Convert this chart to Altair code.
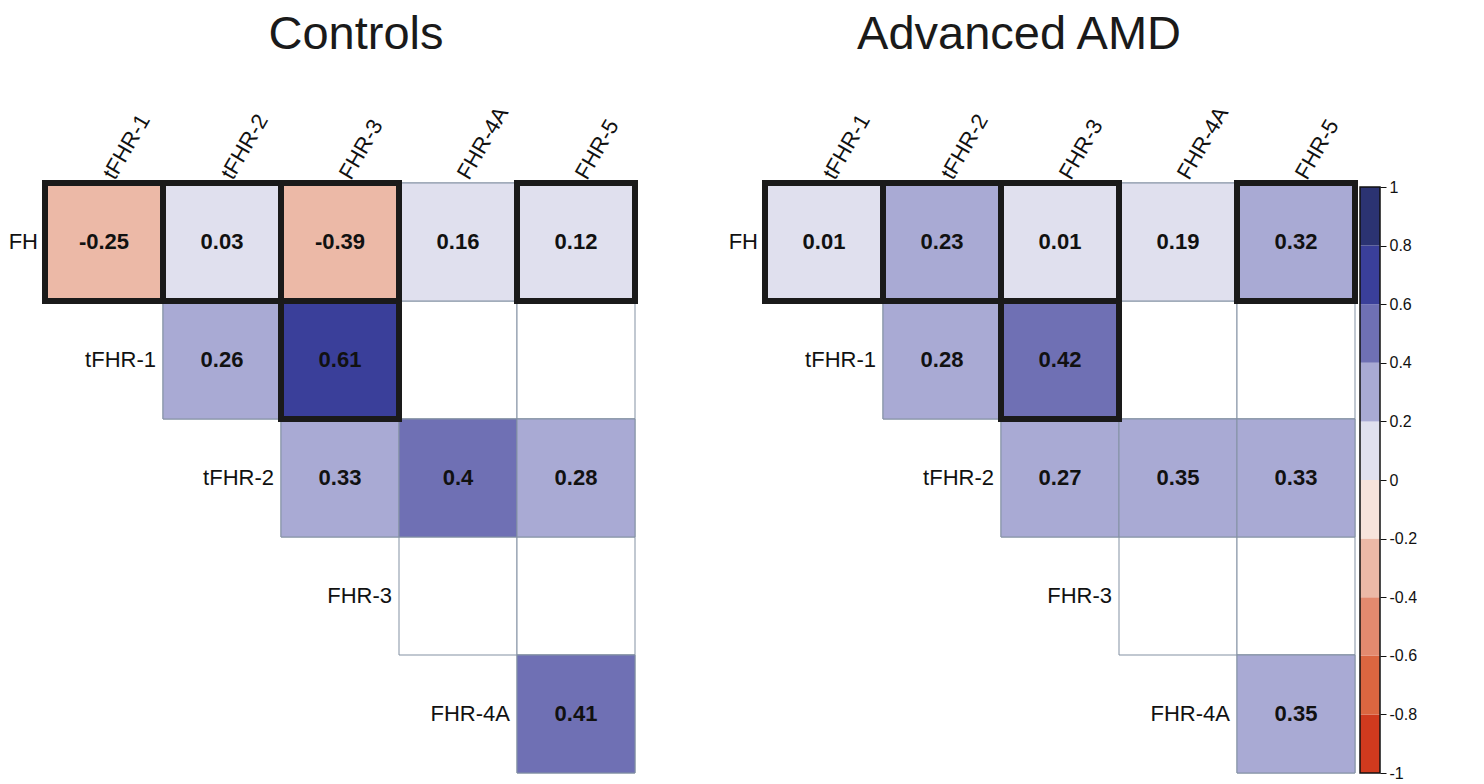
import altair as alt
import pandas as pd

rows = ["FH", "tFHR-1", "tFHR-2", "FHR-3", "FHR-4A"]
cols = ["tFHR-1", "tFHR-2", "FHR-3", "FHR-4A", "FHR-5"]

# upper-triangle values per row (None = blank cell)
controls_vals = [
    [-0.25, 0.03, -0.39, 0.16, 0.12],
    [0.26, 0.61, None, None],
    [0.33, 0.4, 0.28],
    [None, None],
    [0.41],
]
amd_vals = [
    [0.01, 0.23, 0.01, 0.19, 0.32],
    [0.28, 0.42, None, None],
    [0.27, 0.35, 0.33],
    [None, None],
    [0.35],
]
# cells outlined in bold (row, column)
controls_sig = [("FH", "tFHR-1"), ("FH", "tFHR-2"), ("FH", "FHR-3"), ("FH", "FHR-5"), ("tFHR-1", "FHR-3")]
amd_sig = [("FH", "tFHR-1"), ("FH", "tFHR-2"), ("FH", "FHR-3"), ("FH", "FHR-5"), ("tFHR-1", "FHR-3")]

thresholds = [-0.8, -0.6, -0.4, -0.2, 0, 0.2, 0.4, 0.6, 0.8]
palette = ["#d03a1e", "#db6640", "#e38a6f", "#ecb9a7", "#f7e4dc",
           "#e0e0ee", "#a9aad4", "#6f70b4", "#3a3f9a", "#2b3372"]
cbar_lo = [-1, -0.8, -0.6, -0.4, -0.2, 0, 0.2, 0.4, 0.6, 0.8]
cbar_hi = [-0.8, -0.6, -0.4, -0.2, 0, 0.2, 0.4, 0.6, 0.8, 1]
cbar_ticks = [-1, -0.8, -0.6, -0.4, -0.2, 0, 0.2, 0.4, 0.6, 0.8, 1]

FONT = "Liberation Sans"
CELL = 118
W = CELL * len(cols)
H = CELL * len(rows)
GRID = "#8391a3"

color_scale = alt.Scale(type="threshold", domain=thresholds, range=palette)


def build_df(vals, sig):
    recs = []
    for i, r in enumerate(rows):
        for k, v in enumerate(vals[i]):
            c = cols[i + k]
            recs.append({
                "row": r, "col": c, "v": v,
                "label": "" if v is None else str(v),
                "sig": (r, c) in sig,
                "first": k == 0,
            })
    return pd.DataFrame(recs)


def panel(title, vals, sig, dx):
    df = build_df(vals, sig)
    xs = alt.X("col:N", sort=cols, scale=alt.Scale(domain=cols, paddingInner=0, paddingOuter=0),
               axis=alt.Axis(orient="top", title=None, labelAngle=-60, labelAlign="left",
                             labelBaseline="middle", labelFont=FONT, labelFontSize=22,
                             labelColor="#111", domain=False, ticks=False, labelPadding=6,
                             labelOffset=5))
    ys = alt.Y("row:N", sort=rows, scale=alt.Scale(domain=rows, paddingInner=0, paddingOuter=0),
               axis=None)
    base = alt.Chart(df).encode(x=xs, y=ys)
    bg = base.mark_rect(fill="white", stroke=GRID, strokeWidth=1)
    colored = base.transform_filter("isValid(datum.v)").mark_rect(stroke=GRID, strokeWidth=1).encode(
        color=alt.Color("v:Q", scale=color_scale, legend=None))
    bold = base.transform_filter("datum.sig").mark_rect(
        fillOpacity=0, stroke="#1a1a1a", strokeWidth=6)
    txt = base.mark_text(font=FONT, fontSize=22, fontWeight="bold", color="#111").encode(
        text="label:N")
    rlab = base.transform_filter("datum.first").mark_text(
        font=FONT, fontSize=22, color="#111", align="right", baseline="middle",
        dx=-(CELL / 2 + 7)).encode(text="row:N")
    return alt.layer(bg, colored, bold, txt, rlab).properties(
        width=W, height=H,
        title=alt.TitleParams(title, fontSize=47, font=FONT, fontWeight="normal",
                              color="#1a1a1a", anchor="middle", dx=dx, offset=44))


left = panel("Controls", controls_vals, controls_sig, 16)
right = panel("Advanced AMD", amd_vals, amd_sig, -41)

cb_df = pd.DataFrame({"lo": cbar_lo, "hi": cbar_hi})
cb_df["mid"] = (cb_df["lo"] + cb_df["hi"]) / 2
cb_y = alt.Y("lo:Q", scale=alt.Scale(domain=[-1, 1], nice=False, zero=False, range=[H, 4]),
             axis=alt.Axis(orient="right", title=None, values=cbar_ticks,
                           labelExpr="'' + datum.value", labelFont=FONT, labelFontSize=16,
                           labelColor="#111", tickColor="#111", tickSize=6, domain=False,
                           grid=False, labelPadding=3))
cbar = alt.Chart(cb_df).mark_rect().encode(
    x=alt.value(0), x2=alt.value(20), y=cb_y, y2="hi:Q",
    color=alt.Color("mid:Q", scale=color_scale, legend=None))
cb_out = alt.Chart(pd.DataFrame({"lo": [-1], "hi": [1]})).mark_rect(
    fillOpacity=0, stroke="#111", strokeWidth=1.5).encode(
    x=alt.value(0), x2=alt.value(20), y=alt.Y("lo:Q"), y2="hi:Q")
colorbar = alt.layer(cbar, cb_out).properties(width=20, height=H)

right_group = alt.hconcat(right, colorbar, spacing=5, bounds="flush")
chart = alt.hconcat(left, right_group, spacing=130, bounds="flush").properties(
    padding={"left": 0, "top": 2, "right": 0, "bottom": 0},
    background="white",
).configure_view(strokeWidth=0, stroke="transparent")

chart.save("out.html", embed_options={"renderer": "svg", "actions": False})
